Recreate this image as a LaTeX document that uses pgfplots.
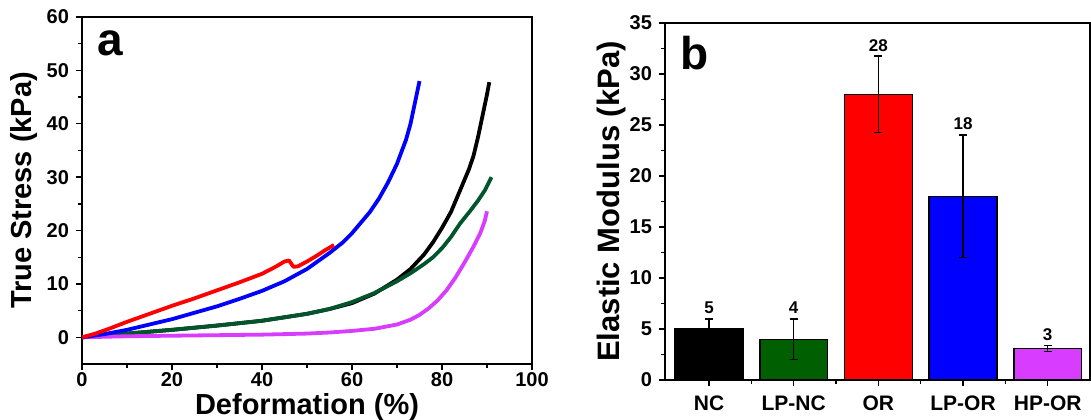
\documentclass[border=0pt]{standalone}
\usepackage{pgfplots}
\pgfplotsset{compat=1.18}
\usepackage{fontspec}
\setmainfont{Liberation Sans}
\definecolor{cgreen}{RGB}{0,85,45}
\definecolor{bgreen}{RGB}{0,95,0}
\definecolor{cmag}{RGB}{215,60,255}
\begin{document}
\begin{tikzpicture}
\useasboundingbox (0,0) rectangle (545.5pt,209.5pt);
\pgfplotsset{
  common/.style={
    scale only axis, anchor=south west,
    tick align=outside, tick pos=left,
    major tick length=3pt, minor tick length=1.8pt,
    axis line style={line width=0.8pt},
    every tick/.style={black, line width=0.7pt},
    tick label style={font=\fontsize{10}{11}\selectfont\bfseries},
    /pgf/number format/assume math mode=true,
    label style={font=\fontsize{14.5}{16}\selectfont\bfseries},
  },
  curve/.style={line width=1.9pt, line join=round, mark=none},
}
\begin{axis}[common,
  at={(41pt,27.5pt)}, width=225pt, height=173.5pt,
  xmin=0, xmax=100, ymin=-5, ymax=60,
  xtick={0,20,...,100}, ytick={0,10,...,60},
  minor x tick num=1, minor y tick num=1,
  xticklabel style={yshift=2.5pt},
  xlabel={Deformation (\%)}, ylabel={True Stress (kPa)},
  xlabel style={at={(rel axis cs:0.5,0)}, anchor=center, yshift=-21.5pt},
  ylabel style={at={(rel axis cs:0,0.5)}, anchor=center, rotate=0, yshift=29pt},
]
\addplot[curve, black] coordinates {(0,0)(10,0.7)(20,1.4)(30,2.2)(40,3.1)(50,4.4)(55,5.3)(60,6.4)(65,8.2)(70,10.8)(73,12.8)(76,15.5)(78,17.8)(80,20.5)(82,23.5)(84,27.5)(86,31.5)(87,34)(88,37.5)(89,41.5)(90,45.5)(90.5,47.8)};
\addplot[curve, cgreen] coordinates {(0,0)(10,0.7)(20,1.4)(30,2.2)(40,3.1)(50,4.4)(55,5.3)(60,6.6)(65,8.3)(70,10.5)(73,12)(76,13.7)(78,15)(80,16.7)(82,18.8)(84,21.3)(86,23.4)(88,25.6)(89.5,27.5)(91,30)};
\addplot[curve, cmag] coordinates {(0,0)(10,0.2)(20,0.3)(30,0.4)(40,0.5)(50,0.7)(55,0.9)(60,1.2)(65,1.6)(70,2.4)(73,3.3)(75,4.2)(77,5.4)(79,6.9)(81,8.8)(83,11.2)(85,14)(87,17)(88.5,19.5)(89.5,21.8)(90,23.6)};
\addplot[curve, blue] coordinates {(0,0)(5,0.6)(10,1.4)(15,2.4)(20,3.4)(25,4.6)(30,5.8)(35,7.2)(40,8.7)(45,10.5)(50,12.8)(55,15.8)(58,17.8)(60,19.5)(62,21.5)(64,23.5)(66,26)(68,29)(70,32.5)(72,37)(73,40)(74,44)(74.5,46)(75,48)};
\addplot[curve, red] coordinates {(0,0)(3,0.7)(6,1.6)(10,2.9)(15,4.4)(20,5.9)(25,7.3)(30,8.8)(35,10.3)(40,11.9)(43,13.2)(45,14.2)(46,14.4)(46.5,13.8)(47,13.2)(48,13.3)(50,14.2)(52,15.2)(54,16.3)(56,17.3)};
\node[font=\fontsize{23}{24}\selectfont\bfseries] at (rel axis cs:0.062,0.925) {a};
\end{axis}

\begin{axis}[common,
  at={(332.5pt,19.5pt)}, width=212.5pt, height=178.5pt,
  xmin=-0.52, xmax=4.5, ymin=0, ymax=35,
  xtick={0,1,2,3,4}, xticklabels={NC,LP-NC,OR,LP-OR,HP-OR},
  minor xtick={0.5,1.5,2.5,3.5},
  ytick={0,5,...,35}, minor y tick num=1,
  xticklabel style={font=\fontsize{10.5}{12}\selectfont\bfseries, yshift=-1.5pt},
  ylabel={Elastic Modulus (kPa)},
  ylabel style={font=\fontsize{15.5}{17}\selectfont\bfseries,
    at={(rel axis cs:0,0.5)}, anchor=center, rotate=0, yshift=27pt},
  bar width=0.8, 
  error bars/error bar style={line width=0.8pt, black},
  error bars/error mark options={rotate=90, mark size=2pt, line width=0.8pt, black},
]
\addplot[ybar, bar shift=0pt, fill=black, draw=black, line width=0.7pt,
  error bars/.cd, y dir=both, y explicit] coordinates {(0,5) +- (0,1)};
\addplot[ybar, bar shift=0pt, fill=bgreen, draw=black, line width=0.7pt,
  error bars/.cd, y dir=both, y explicit] coordinates {(1,4) +- (0,2)};
\addplot[ybar, bar shift=0pt, fill=red, draw=black, line width=0.7pt,
  error bars/.cd, y dir=both, y explicit] coordinates {(2,28) +- (0,3.75)};
\addplot[ybar, bar shift=0pt, fill=blue, draw=black, line width=0.7pt,
  error bars/.cd, y dir=both, y explicit] coordinates {(3,18) +- (0,6)};
\addplot[ybar, bar shift=0pt, fill=cmag, draw=black, line width=0.7pt,
  error bars/.cd, y dir=both, y explicit] coordinates {(4,3.1) +- (0,0.3)};
\addplot[draw=none, mark=none, nodes near coords, point meta=explicit symbolic,
  nodes near coords align={center},
  every node near coord/.append style={font=\fontsize{8.5}{9}\selectfont\bfseries, black}]
  coordinates {(0,7.1)[5] (1,7.1)[4] (2,32.8)[28] (3,25.1)[18] (4,4.4)[3]};
\node[font=\fontsize{23}{24}\selectfont\bfseries] at (rel axis cs:0.07,0.915) {b};
\end{axis}
\end{tikzpicture}
\end{document}
